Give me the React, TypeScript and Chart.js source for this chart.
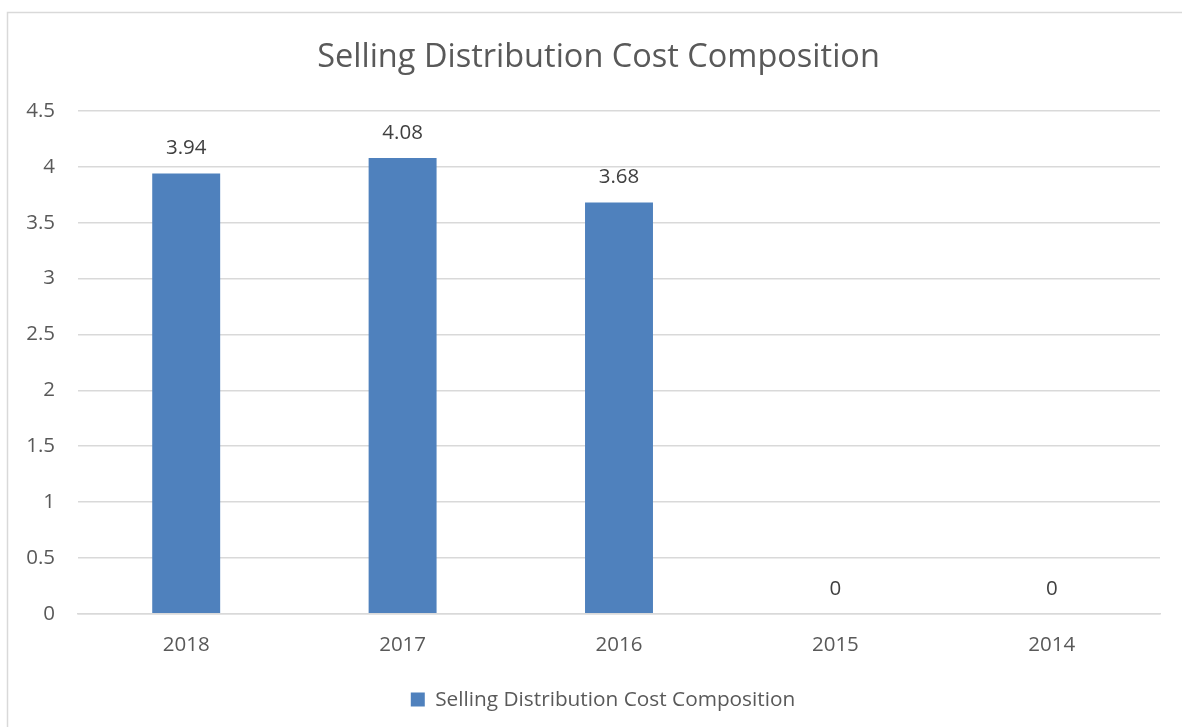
import React, { useEffect, useRef } from "react";
import { Chart, registerables } from "chart.js";

Chart.register(...registerables);

const categories = ["2018", "2017", "2016", "2015", "2014"];
const seriesName = "Selling Distribution Cost Composition";
const seriesValues = [3.94, 4.08, 3.68, 0, 0];
const titleText = "Selling Distribution Cost Composition";
const yMin = 0;
const yMax = 4.5;
const yStep = 0.5;

const FONT = "'Open Sans', 'Noto Sans', sans-serif";
const BAR_COLOR = "#4F81BD";
const GRID_COLOR = "#D9D9D9";
const TEXT_COLOR = "#595959";
const LABEL_COLOR = "#404040";

const framePlugin = {
  id: "frame",
  afterLayout(chart: any) {
    // centre title and legend as in the reference (slightly off the canvas centre)
    if (chart.titleBlock) chart.titleBlock.left = 37;
    if (chart.legend) chart.legend.left = 46;
  },
  beforeDraw(chart: any) {
    const ctx = chart.ctx;
    ctx.save();
    ctx.fillStyle = "#ffffff";
    ctx.fillRect(0, 0, chart.width, chart.height);
    ctx.strokeStyle = GRID_COLOR;
    ctx.lineWidth = 1.5;
    ctx.beginPath();
    ctx.moveTo(7.5, chart.height + 5);
    ctx.lineTo(7.5, 12.5);
    ctx.lineTo(chart.width + 5, 12.5);
    ctx.stroke();
    ctx.restore();
  },
};

const dataLabelPlugin = {
  id: "dataLabels",
  afterDatasetsDraw(chart: any) {
    const ctx = chart.ctx;
    ctx.save();
    ctx.font = `20.5px ${FONT}`;
    ctx.fillStyle = LABEL_COLOR;
    ctx.textAlign = "center";
    ctx.textBaseline = "middle";
    chart.data.datasets.forEach((ds: any, di: number) => {
      const meta = chart.getDatasetMeta(di);
      meta.data.forEach((bar: any, i: number) => {
        const v = ds.data[i];
        ctx.fillText(String(v), bar.x, bar.y - 25);
      });
    });
    ctx.restore();
  },
};

export default function App() {
  const canvasRef = useRef<HTMLCanvasElement | null>(null);

  useEffect(() => {
    document.body.style.margin = "0";
    const canvas = canvasRef.current;
    if (!canvas) return;
    const chart = new Chart(canvas, {
      type: "bar",
      data: {
        labels: categories,
        datasets: [
          {
            label: seriesName,
            data: seriesValues,
            backgroundColor: BAR_COLOR,
            borderWidth: 0,
            barPercentage: 1,
            categoryPercentage: 0.314,
          },
        ],
      },
      options: {
        responsive: false,
        animation: false,
        devicePixelRatio: 1,
        layout: { padding: { top: 0, left: 0, right: 22, bottom: 7 } },
        plugins: {
          title: {
            display: true,
            text: titleText,
            color: TEXT_COLOR,
            font: { family: FONT, size: 32.5, weight: "normal", lineHeight: 1.2 },
            padding: { top: 38, bottom: 34 },
          },
          legend: {
            display: true,
            position: "bottom",
            labels: {
              color: TEXT_COLOR,
              font: { family: FONT, size: 20.8 },
              boxWidth: 14,
              boxHeight: 14,
              padding: 10,
            },
          },
          tooltip: { enabled: false },
        },
        scales: {
          x: {
            grid: { display: false, drawTicks: false },
            border: { display: true, color: GRID_COLOR, width: 1.5 },
            ticks: {
              color: TEXT_COLOR,
              font: { family: FONT, size: 20.5 },
              padding: 19,
              maxRotation: 0,
            },
            afterFit(scale: any) {
              scale.height = 65.5;
            },
          },
          y: {
            min: yMin,
            max: yMax,
            grid: { color: GRID_COLOR, lineWidth: 1.5, drawTicks: false },
            border: { display: false },
            ticks: {
              stepSize: yStep,
              color: TEXT_COLOR,
              font: { family: FONT, size: 20.5 },
              padding: 23,
              callback: (v: any) => String(v),
            },
            afterFit(scale: any) {
              scale.width = 78;
            },
          },
        },
      },
      plugins: [framePlugin, dataLabelPlugin],
    });
    return () => chart.destroy();
  }, []);

  return (
    <div style={{ position: "fixed", left: 0, top: 0, width: 1182, height: 727 }}>
      <canvas ref={canvasRef} width={1182} height={727} style={{ width: 1182, height: 727 }} />
    </div>
  );
}
